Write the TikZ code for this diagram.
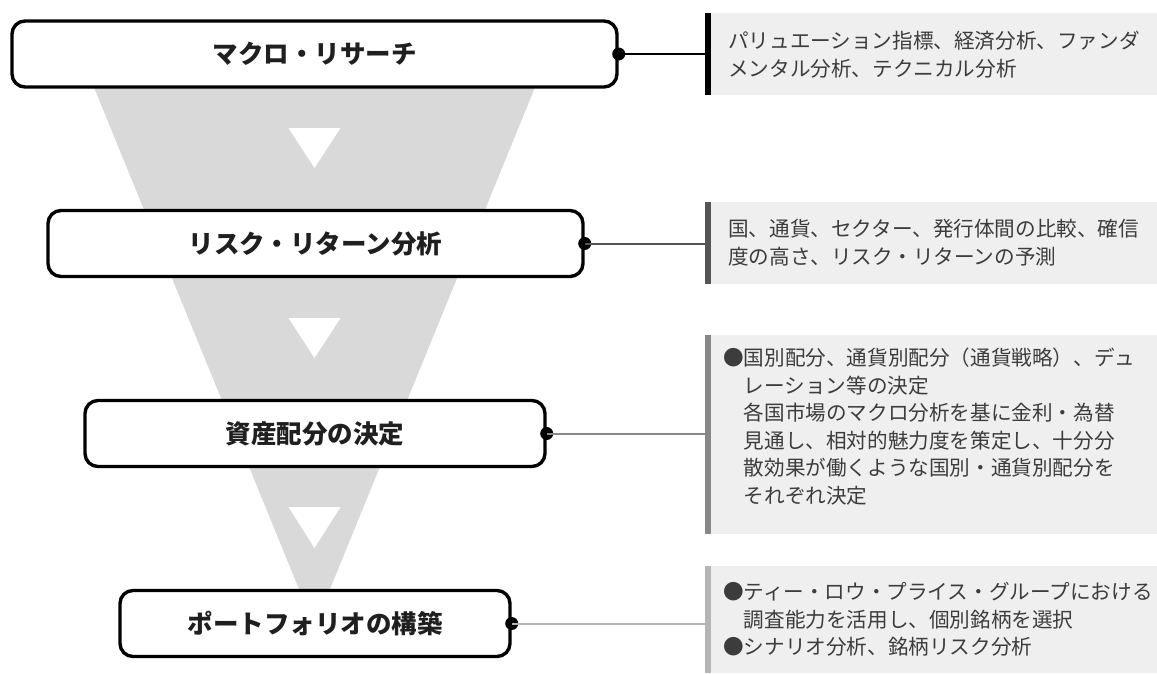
\documentclass[tikz,border=0pt]{standalone}
\usepackage{fontspec}
\newfontfamily\jp{Noto Sans CJK JP}
\definecolor{funnelgray}{HTML}{D9D9D9}
\definecolor{panelgray}{HTML}{EFEFEF}
\definecolor{textgray}{HTML}{3C3C3C}
\definecolor{lineA}{HTML}{000000}
\definecolor{lineB}{HTML}{555555}
\definecolor{lineC}{HTML}{878787}
\definecolor{lineD}{HTML}{B5B5B5}
\begin{document}
\begin{tikzpicture}[x=1pt,y=-1pt,
  stepbox/.style={draw=black, line width=3.4pt, fill=white, rounded corners=13pt,
    minimum height=66pt, inner sep=0pt,
    font=\jp\bfseries\fontsize{25.5}{30}\selectfont, text=black!88},
  dotnode/.style={circle, fill=black, minimum size=13pt, inner sep=0pt},
  panel/.style={fill=panelgray, draw=none, anchor=north west, inner sep=0pt, minimum width=446pt},
  barnode/.style={anchor=north west, inner sep=0pt, minimum width=6pt, draw=none},
  ptext/.style={anchor=north west, inner sep=0pt, align=left,
    font=\jp\fontsize{20.6}{27.5}\selectfont, text=textgray},
  conn/.style={line width=2pt}
]
\useasboundingbox (0,0) rectangle (1157,673);
% funnel
\fill[funnelgray] (91,80) -- (538,80) -- (314.5,627) -- cycle;
% white arrow triangles
\fill[white] (288.5,128) -- (340.5,128) -- (314.5,168) -- cycle;
\fill[white] (288.5,318) -- (340.5,318) -- (314.5,358) -- cycle;
\fill[white] (288.5,507) -- (340.5,507) -- (314.5,548) -- cycle;
% boxes
\node[stepbox, minimum width=605pt] (box1) at (314.5,54) {マクロ・リサーチ};
\node[stepbox, minimum width=535pt] (box2) at (315.5,243.5) {リスク・リターン分析};
\node[stepbox, minimum width=460pt] (box3) at (315,433.5) {資産配分の決定};
\node[stepbox, minimum width=390pt] (box4) at (315,623.5) {ポートフォリオの構築};
% panels and bars
\node[panel, minimum height=82pt] (p1) at (711,13) {};
\node[barnode, fill=lineA, minimum height=82pt] (bar1) at (705,13) {};
\node[panel, minimum height=82pt] (p2) at (711,202) {};
\node[barnode, fill=lineB, minimum height=82pt] (bar2) at (705,202) {};
\node[panel, minimum height=199pt] (p3) at (711,335) {};
\node[barnode, fill=lineC, minimum height=199pt] (bar3) at (705,335) {};
\node[panel, minimum height=107pt] (p4) at (711,566) {};
\node[barnode, fill=lineD, minimum height=107pt] (bar4) at (705,566) {};
% panel texts
\node[ptext] (t1) at (728,31) {パリュエーション指標、経済分析、ファンダ\\メンタル分析、テクニカル分析};
\node[ptext] (t2) at (728,219) {国、通貨、セクター、発行体間の比較、確信\\度の高さ、リスク・リターンの予測};
\node[ptext] (t3) at (723,348) {●国別配分、通貨別配分（通貨戦略）、デュ\\\hphantom{●}レーション等の決定\\\hphantom{●}各国市場のマクロ分析を基に金利・為替\\\hphantom{●}見通し、相対的魅力度を策定し、十分分\\\hphantom{●}散効果が働くような国別・通貨別配分を\\\hphantom{●}それぞれ決定};
\node[ptext] (t4) at (723,582) {●ティー・ロウ・プライス・グループにおける\\\hphantom{●}調査能力を活用し、個別銘柄を選択\\●シナリオ分析、銘柄リスク分析};
% dots
\node[dotnode] (d1) at (box1.east) {};
\node[dotnode] (d2) at (box2.east) {};
\node[dotnode] (d3) at (box3.east) {};
\node[dotnode] (d4) at (box4.east) {};
% connectors
\draw[conn, lineA] (d1.center) -- (d1.center -| bar1.west);
\draw[conn, lineB] (d2.center) -- (d2.center -| bar2.west);
\draw[conn, lineC] (d3.center) -- (d3.center -| bar3.west);
\draw[conn, lineD] (d4.center) -- (d4.center -| bar4.west);
\end{tikzpicture}
\end{document}
